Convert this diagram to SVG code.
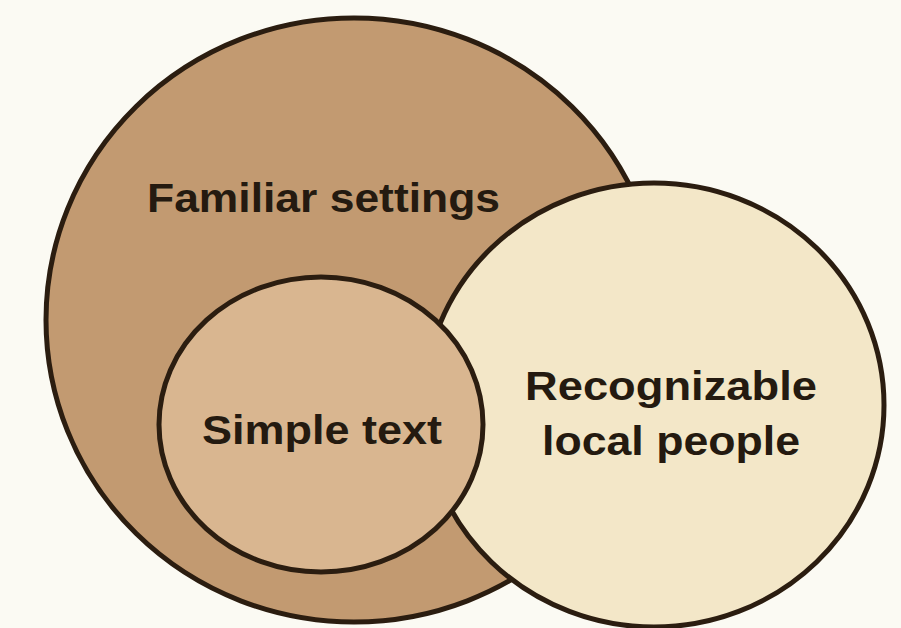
<svg xmlns="http://www.w3.org/2000/svg" width="901" height="628" viewBox="0 0 901 628">
  <style>
    .set { stroke: #2b1d10; stroke-width: 5; }
    .label { font-family: "Liberation Sans", Arial, sans-serif; font-weight: bold; font-size: 41px; fill: #241a10; }
  </style>
  <rect width="901" height="628" fill="#fbfaf3"/>

  <!-- outer set -->
  <g id="familiar-settings">
    <ellipse class="set" cx="354" cy="320" rx="308" ry="302" fill="#c29a71"/>
    <text class="label" x="147" y="212" textLength="353" lengthAdjust="spacingAndGlyphs">Familiar settings</text>
  </g>

  <!-- overlapping set on the right -->
  <g id="local-people">
    <ellipse class="set" cx="654" cy="405" rx="230" ry="222" fill="#f3e7c8"/>
    <text class="label" x="525" y="400" textLength="292" lengthAdjust="spacingAndGlyphs">Recognizable</text>
    <text class="label" x="542" y="455" textLength="258" lengthAdjust="spacingAndGlyphs">local people</text>
  </g>

  <!-- inner set -->
  <g id="simple-text">
    <ellipse class="set" cx="321" cy="424.5" rx="162" ry="147.5" fill="#d9b690"/>
    <text class="label" x="202" y="444" textLength="240" lengthAdjust="spacingAndGlyphs">Simple text</text>
  </g>
</svg>
